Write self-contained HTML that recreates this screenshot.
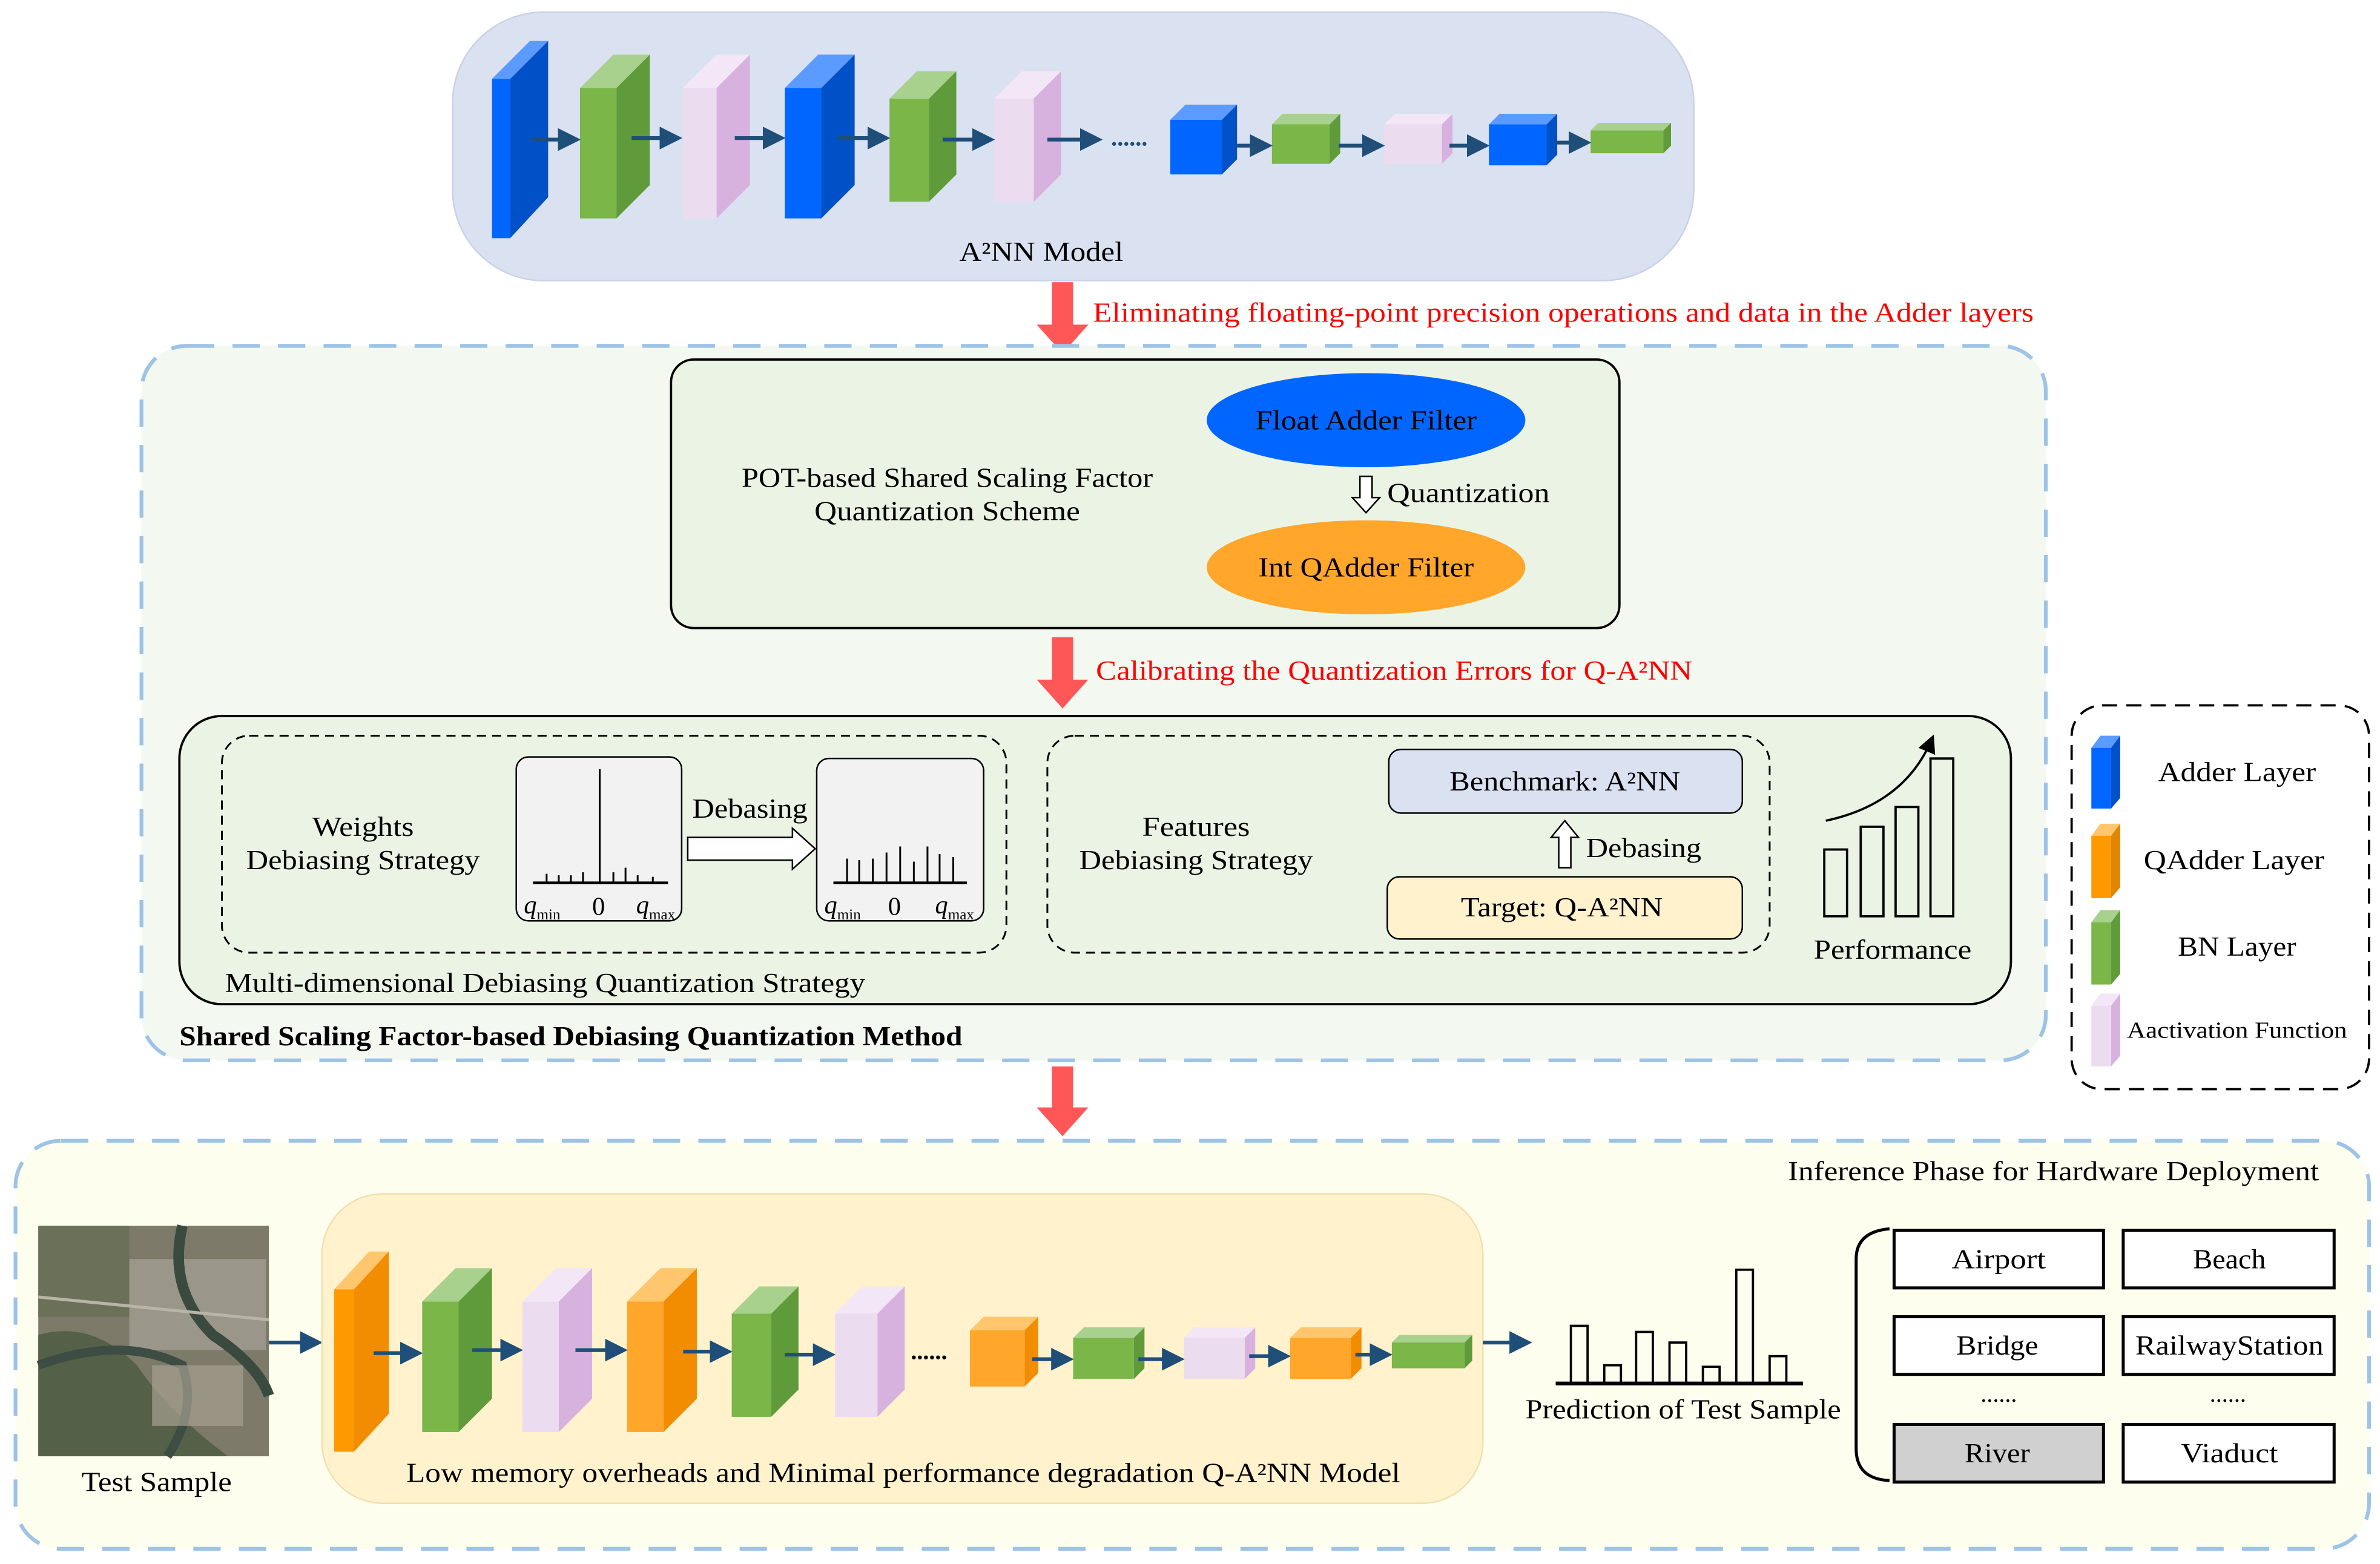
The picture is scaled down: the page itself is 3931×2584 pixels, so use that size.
<!DOCTYPE html>
<html><head><meta charset="utf-8"><style>html,body{margin:0;padding:0;background:#fff}svg{display:block}text{font-family:"Liberation Serif",serif;fill:#000}</style></head><body>
<svg width="3931" height="2584" viewBox="0 0 1568 1031" xmlns="http://www.w3.org/2000/svg">
<defs>
<marker id="ah" markerWidth="6" markerHeight="6" refX="5" refY="3" orient="auto"><path d="M0,0 L6,3 L0,6 z" fill="#1f4e79"/></marker>
<marker id="bh" markerWidth="8" markerHeight="8" refX="6" refY="4" orient="auto"><path d="M0,0 L8,4 L0,8 z" fill="#000"/></marker>
</defs>
<rect x="298" y="8" width="818" height="177" rx="60" fill="#dae1f0" stroke="#c9d2e6"/>
<g>
<polygon points="324,52 349,27 361,27 336,52" fill="#5b9bff"/><polygon points="336,52 361,27 361,130 336,157" fill="#0050c8"/><rect x="324" y="52" width="12" height="105" fill="#0066ff"/>
<polygon points="382,58 404,36 428,36 406,58" fill="#a9d18e"/><polygon points="406,58 428,36 428,122 406,144" fill="#5f9a3b"/><rect x="382" y="58" width="24" height="86" fill="#7ab648"/>
<polygon points="450,58 472,36 494,36 472,58" fill="#f3e6f6"/><polygon points="472,58 494,36 494,122 472,144" fill="#d8b2de"/><rect x="450" y="58" width="22" height="86" fill="#ecdcf0"/>
<polygon points="517,58 539,36 563,36 541,58" fill="#5b9bff"/><polygon points="541,58 563,36 563,122 541,144" fill="#0050c8"/><rect x="517" y="58" width="24" height="86" fill="#0066ff"/>
<polygon points="586,65 604,47 630,47 612,65" fill="#a9d18e"/><polygon points="612,65 630,47 630,115 612,133" fill="#5f9a3b"/><rect x="586" y="65" width="26" height="68" fill="#7ab648"/>
<polygon points="655,65 673,47 699,47 681,65" fill="#f3e6f6"/><polygon points="681,65 699,47 699,115 681,133" fill="#d8b2de"/><rect x="655" y="65" width="26" height="68" fill="#ecdcf0"/>
<polygon points="771,79 781,69 815,69 805,79" fill="#5b9bff"/><polygon points="805,79 815,69 815,105 805,115" fill="#0050c8"/><rect x="771" y="79" width="34" height="36" fill="#0066ff"/>
<polygon points="838,82 845,75 883,75 876,82" fill="#a9d18e"/><polygon points="876,82 883,75 883,101 876,108" fill="#5f9a3b"/><rect x="838" y="82" width="38" height="26" fill="#7ab648"/>
<polygon points="912,82 919,75 957,75 950,82" fill="#f3e6f6"/><polygon points="950,82 957,75 957,101 950,108" fill="#d8b2de"/><rect x="912" y="82" width="38" height="26" fill="#ecdcf0"/>
<polygon points="981,82 988,75 1026,75 1019,82" fill="#5b9bff"/><polygon points="1019,82 1026,75 1026,102 1019,109" fill="#0050c8"/><rect x="981" y="82" width="38" height="27" fill="#0066ff"/>
<polygon points="1048,86 1053,81 1101,81 1096,86" fill="#a9d18e"/><polygon points="1096,86 1101,81 1101,96 1096,101" fill="#5f9a3b"/><rect x="1048" y="86" width="48" height="15" fill="#7ab648"/>
<g stroke="#1f4e79" stroke-width="2.5" marker-end="url(#ah)">
<line x1="350" y1="92" x2="380" y2="92"/><line x1="416" y1="91" x2="447" y2="91"/><line x1="484" y1="91" x2="515" y2="91"/><line x1="552" y1="91" x2="584" y2="91"/><line x1="621" y1="92" x2="653" y2="92"/><line x1="690" y1="92" x2="724" y2="92"/>
<line x1="815" y1="96" x2="836" y2="96"/><line x1="882" y1="96" x2="910" y2="96"/><line x1="955" y1="96" x2="979" y2="96"/><line x1="1025" y1="94" x2="1046" y2="94"/>
</g>
<text x="732" y="96" font-size="16" font-weight="bold" style="fill:#1f4e79">......</text>
</g>
<text x="686" y="172" font-size="18" text-anchor="middle" textLength="108" lengthAdjust="spacingAndGlyphs">A²NN Model</text>
<rect x="693" y="186" width="14" height="30" fill="#ff5757"/><polygon points="683,214 717,214 700,233" fill="#ff5757"/>
<text x="720" y="212" font-size="18" style="fill:#ff0000" textLength="620" lengthAdjust="spacingAndGlyphs">Eliminating floating-point precision operations and data in the Adder layers</text>
<rect x="93" y="228" width="1255" height="471" rx="30" fill="#f3f8f1" stroke="#9dc3e6" stroke-width="2.5" stroke-dasharray="18,12"/>
<rect x="442" y="237" width="625" height="177" rx="15" fill="#ebf4e4" stroke="#000" stroke-width="1.5"/>
<text x="624" y="321" font-size="18" text-anchor="middle" textLength="271" lengthAdjust="spacingAndGlyphs">POT-based Shared Scaling Factor</text>
<text x="624" y="343" font-size="18" text-anchor="middle" textLength="175" lengthAdjust="spacingAndGlyphs">Quantization Scheme</text>
<ellipse cx="900" cy="277" rx="105" ry="31" fill="#0066ff"/>
<text x="900" y="283" font-size="18" text-anchor="middle" textLength="146" lengthAdjust="spacingAndGlyphs">Float Adder Filter</text>
<polygon points="896,314 904,314 904,328 909,328 900,338 891,328 896,328" fill="#fff" stroke="#000"/>
<text x="914" y="331" font-size="18" textLength="107" lengthAdjust="spacingAndGlyphs">Quantization</text>
<ellipse cx="900" cy="374" rx="105" ry="31" fill="#ffa62b"/>
<text x="900" y="380" font-size="18" text-anchor="middle" textLength="142" lengthAdjust="spacingAndGlyphs">Int QAdder Filter</text>
<rect x="693" y="420" width="14" height="30" fill="#ff5757"/><polygon points="683,448 717,448 700,467" fill="#ff5757"/>
<text x="722" y="448" font-size="18" style="fill:#ff0000" textLength="393" lengthAdjust="spacingAndGlyphs">Calibrating the Quantization Errors for Q-A²NN</text>
<rect x="118" y="472" width="1207" height="190" rx="28" fill="#ebf4e4" stroke="#000" stroke-width="1.5"/>
<rect x="146" y="485" width="517" height="143" rx="18" fill="none" stroke="#000" stroke-width="1.2" stroke-dasharray="6,4"/>
<rect x="690" y="485" width="476" height="143" rx="18" fill="none" stroke="#000" stroke-width="1.2" stroke-dasharray="6,4"/>
<text x="239" y="551" font-size="18" text-anchor="middle" textLength="67" lengthAdjust="spacingAndGlyphs">Weights</text>
<text x="239" y="573" font-size="18" text-anchor="middle" textLength="154" lengthAdjust="spacingAndGlyphs">Debiasing Strategy</text>
<rect x="340" y="499" width="109" height="108" rx="8" fill="#f2f2f2" stroke="#000"/>
<g stroke="#000" stroke-width="1.2">
<line x1="351" y1="582" x2="440" y2="582" stroke-width="1.8"/><line x1="395" y1="507" x2="395" y2="582"/>
<line x1="360" y1="576" x2="360" y2="582"/><line x1="368" y1="577" x2="368" y2="582"/><line x1="376" y1="577" x2="376" y2="582"/><line x1="384" y1="575" x2="384" y2="582"/><line x1="404" y1="575" x2="404" y2="582"/><line x1="412" y1="572" x2="412" y2="582"/><line x1="420" y1="577" x2="420" y2="582"/><line x1="430" y1="578" x2="430" y2="582"/>
</g>
<text x="345" y="602" font-size="17" font-style="italic">q<tspan font-size="10" dy="4" font-style="normal">min</tspan></text>
<text x="390" y="603" font-size="17">0</text>
<text x="419" y="602" font-size="17" font-style="italic">q<tspan font-size="10" dy="4" font-style="normal">max</tspan></text>
<text x="494" y="539" font-size="18" text-anchor="middle" textLength="76" lengthAdjust="spacingAndGlyphs">Debasing</text>
<polygon points="453,552 522,552 522,546 537,559.5 522,573 522,567 453,567" fill="#fff" stroke="#000"/>
<rect x="538" y="500" width="110" height="107" rx="8" fill="#f2f2f2" stroke="#000"/>
<g stroke="#000" stroke-width="1.2">
<line x1="549" y1="582" x2="637" y2="582" stroke-width="1.8"/>
<line x1="558" y1="566" x2="558" y2="582"/><line x1="566" y1="567" x2="566" y2="582"/><line x1="575" y1="566" x2="575" y2="582"/><line x1="584" y1="562" x2="584" y2="582"/><line x1="593" y1="558" x2="593" y2="582"/><line x1="602" y1="568" x2="602" y2="582"/><line x1="611" y1="558" x2="611" y2="582"/><line x1="619" y1="563" x2="619" y2="582"/><line x1="628" y1="565" x2="628" y2="582"/>
</g>
<text x="543" y="602" font-size="17" font-style="italic">q<tspan font-size="10" dy="4" font-style="normal">min</tspan></text>
<text x="585" y="603" font-size="17">0</text>
<text x="616" y="602" font-size="17" font-style="italic">q<tspan font-size="10" dy="4" font-style="normal">max</tspan></text>
<text x="788" y="551" font-size="18" text-anchor="middle" textLength="71" lengthAdjust="spacingAndGlyphs">Features</text>
<text x="788" y="573" font-size="18" text-anchor="middle" textLength="154" lengthAdjust="spacingAndGlyphs">Debiasing Strategy</text>
<rect x="915" y="494" width="233" height="42" rx="8" fill="#dae1f0" stroke="#000"/>
<text x="1031" y="521" font-size="18" text-anchor="middle" textLength="152" lengthAdjust="spacingAndGlyphs">Benchmark: A²NN</text>
<polygon points="1027,572 1035,572 1035,552 1040,552 1031,541 1022,552 1027,552" fill="#fff" stroke="#000"/>
<text x="1045" y="565" font-size="18" textLength="76" lengthAdjust="spacingAndGlyphs">Debasing</text>
<rect x="914" y="578" width="234" height="41" rx="8" fill="#fff2cc" stroke="#000"/>
<text x="1029" y="604" font-size="18" text-anchor="middle" textLength="133" lengthAdjust="spacingAndGlyphs">Target: Q-A²NN</text>
<g fill="none" stroke="#000" stroke-width="1.5">
<rect x="1202" y="560" width="15" height="44"/><rect x="1226" y="545" width="15" height="59"/><rect x="1249" y="532" width="15" height="72"/><rect x="1272" y="500" width="15" height="104"/>
<path d="M1203,541 Q1255,530 1273,487" marker-end="url(#bh)"/>
</g>
<text x="1247" y="632" font-size="18" text-anchor="middle" textLength="104" lengthAdjust="spacingAndGlyphs">Performance</text>
<text x="148" y="654" font-size="18" textLength="422" lengthAdjust="spacingAndGlyphs">Multi-dimensional Debiasing Quantization Strategy</text>
<text x="118" y="689" font-size="18" font-weight="bold" textLength="516" lengthAdjust="spacingAndGlyphs">Shared Scaling Factor-based Debiasing Quantization Method</text>
<rect x="1365" y="465" width="196" height="253" rx="20" fill="#fff" stroke="#000" stroke-width="1.5" stroke-dasharray="10,6"/>
<polygon points="1378,493 1384,485 1397,485 1391,493" fill="#5b9bff"/><polygon points="1391,493 1397,485 1397,526 1391,533" fill="#0050c8"/><rect x="1378" y="493" width="13" height="40" fill="#0066ff"/>
<polygon points="1378,551 1384,543 1397,543 1391,551" fill="#ffc66e"/><polygon points="1391,551 1397,543 1397,585 1391,592" fill="#e08600"/><rect x="1378" y="551" width="13" height="41" fill="#ff9900"/>
<polygon points="1378,608 1384,600 1397,600 1391,608" fill="#a9d18e"/><polygon points="1391,608 1397,600 1397,642 1391,649" fill="#5f9a3b"/><rect x="1378" y="608" width="13" height="41" fill="#7ab648"/>
<polygon points="1378,663 1384,655 1397,655 1391,663" fill="#f3e6f6"/><polygon points="1391,663 1397,655 1397,696 1391,703" fill="#d8b2de"/><rect x="1378" y="663" width="13" height="40" fill="#ecdcf0"/>
<text x="1474" y="515" font-size="18" text-anchor="middle" textLength="104" lengthAdjust="spacingAndGlyphs">Adder Layer</text>
<text x="1472" y="573" font-size="18" text-anchor="middle" textLength="119" lengthAdjust="spacingAndGlyphs">QAdder Layer</text>
<text x="1474" y="630" font-size="18" text-anchor="middle" textLength="78" lengthAdjust="spacingAndGlyphs">BN Layer</text>
<text x="1474" y="684" font-size="15" text-anchor="middle" textLength="145" lengthAdjust="spacingAndGlyphs">Aactivation Function</text>
<rect x="693" y="703" width="14" height="29" fill="#ff5757"/><polygon points="683,730 717,730 700,749" fill="#ff5757"/>
<rect x="10" y="752" width="1551" height="269" rx="30" fill="#fefeee" stroke="#9dc3e6" stroke-width="2.5" stroke-dasharray="18,12"/>
<text x="1528" y="778" font-size="18" text-anchor="end" textLength="350" lengthAdjust="spacingAndGlyphs">Inference Phase for Hardware Deployment</text>
<rect x="25" y="808" width="152" height="152" fill="#7d7a6a"/>
<rect x="25" y="808" width="60" height="60" fill="#6b7158"/>
<rect x="85" y="830" width="90" height="60" fill="#9a978a"/>
<path d="M25,880 Q60,870 90,900 Q110,930 150,960 L25,960 Z" fill="#556049"/>
<path d="M120,808 Q110,850 140,880 Q170,900 177,920" stroke="#3a4a3e" stroke-width="7" fill="none"/>
<path d="M25,900 Q80,880 120,900 Q130,930 110,960" stroke="#3e4d44" stroke-width="6" fill="none"/>
<rect x="100" y="900" width="60" height="40" fill="#a6a090" opacity="0.7"/>
<line x1="25" y1="855" x2="177" y2="870" stroke="#b8b4a8" stroke-width="2"/>
<text x="103" y="983" font-size="18" text-anchor="middle" textLength="99" lengthAdjust="spacingAndGlyphs">Test Sample</text>
<line x1="177" y1="885" x2="210" y2="885" stroke="#1f4e79" stroke-width="2.5" marker-end="url(#ah)"/>
<rect x="212" y="787" width="765" height="204" rx="40" fill="#fff2cc" stroke="#f0e0b0"/>
<text x="595" y="977" font-size="18" text-anchor="middle" textLength="655" lengthAdjust="spacingAndGlyphs">Low memory overheads and Minimal performance degradation Q-A²NN Model</text>
<polygon points="220,850 243,825 256,825 233,850" fill="#ffc66e"/><polygon points="233,850 256,825 256,932 233,957" fill="#f28c00"/><rect x="220" y="850" width="13" height="107" fill="#ff9900"/>
<polygon points="278,858 300,836 324,836 302,858" fill="#a9d18e"/><polygon points="302,858 324,836 324,922 302,944" fill="#5f9a3b"/><rect x="278" y="858" width="24" height="86" fill="#7ab648"/>
<polygon points="344,858 366,836 390,836 368,858" fill="#f3e6f6"/><polygon points="368,858 390,836 390,922 368,944" fill="#d8b2de"/><rect x="344" y="858" width="24" height="86" fill="#ecdcf0"/>
<polygon points="413,858 435,836 459,836 437,858" fill="#ffc66e"/><polygon points="437,858 459,836 459,922 437,944" fill="#f28c00"/><rect x="413" y="858" width="24" height="86" fill="#ffa62b"/>
<polygon points="482,866 500,848 526,848 508,866" fill="#a9d18e"/><polygon points="508,866 526,848 526,916 508,934" fill="#5f9a3b"/><rect x="482" y="866" width="26" height="68" fill="#7ab648"/>
<polygon points="550,866 568,848 596,848 578,866" fill="#f3e6f6"/><polygon points="578,866 596,848 596,916 578,934" fill="#d8b2de"/><rect x="550" y="866" width="28" height="68" fill="#ecdcf0"/>
<text x="600" y="896" font-size="16" font-weight="bold">......</text>
<polygon points="639,877 648,868 684,868 675,877" fill="#ffc66e"/><polygon points="675,877 684,868 684,905 675,914" fill="#f28c00"/><rect x="639" y="877" width="36" height="37" fill="#ffa62b"/>
<polygon points="707,882 714,875 754,875 747,882" fill="#a9d18e"/><polygon points="747,882 754,875 754,902 747,909" fill="#5f9a3b"/><rect x="707" y="882" width="40" height="27" fill="#7ab648"/>
<polygon points="780,882 787,875 827,875 820,882" fill="#f3e6f6"/><polygon points="820,882 827,875 827,902 820,909" fill="#d8b2de"/><rect x="780" y="882" width="40" height="27" fill="#ecdcf0"/>
<polygon points="850,882 857,875 897,875 890,882" fill="#ffc66e"/><polygon points="890,882 897,875 897,902 890,909" fill="#f28c00"/><rect x="850" y="882" width="40" height="27" fill="#ffa62b"/>
<polygon points="917,885 922,880 970,880 965,885" fill="#a9d18e"/><polygon points="965,885 970,880 970,897 965,902" fill="#5f9a3b"/><rect x="917" y="885" width="48" height="17" fill="#7ab648"/>
<g stroke="#1f4e79" stroke-width="2.5" marker-end="url(#ah)">
<line x1="246" y1="892" x2="276" y2="892"/><line x1="311" y1="890" x2="342" y2="890"/><line x1="379" y1="890" x2="411" y2="890"/><line x1="450" y1="891" x2="480" y2="891"/><line x1="517" y1="893" x2="548" y2="893"/>
<line x1="680" y1="896" x2="705" y2="896"/><line x1="750" y1="896" x2="778" y2="896"/><line x1="823" y1="894" x2="848" y2="894"/><line x1="893" y1="893" x2="915" y2="893"/><line x1="977" y1="885" x2="1007" y2="885"/>
</g>
<g fill="none" stroke="#000" stroke-width="1.5">
<rect x="1035" y="874" width="11" height="38"/><rect x="1057" y="900" width="11" height="12"/><rect x="1078" y="878" width="11" height="34"/><rect x="1100" y="885" width="11" height="27"/><rect x="1122" y="901" width="11" height="11"/><rect x="1144" y="837" width="11" height="75"/><rect x="1166" y="894" width="11" height="18"/>
<line x1="1025" y1="912" x2="1188" y2="912" stroke-width="2.5"/>
<path d="M1245,810 Q1223,812 1223,830 L1223,955 Q1223,975 1245,976" stroke-width="2"/>
</g>
<text x="1109" y="935" font-size="18" text-anchor="middle" textLength="208" lengthAdjust="spacingAndGlyphs">Prediction of Test Sample</text>
<g stroke="#000" stroke-width="2">
<rect x="1248" y="811" width="138" height="38" fill="#fff"/><rect x="1399" y="811" width="139" height="38" fill="#fff"/>
<rect x="1248" y="868" width="138" height="38" fill="#fff"/><rect x="1399" y="868" width="139" height="38" fill="#fff"/>
<rect x="1248" y="939" width="138" height="38" fill="#d0d0d0"/><rect x="1399" y="939" width="139" height="38" fill="#fff"/>
</g>
<text x="1317" y="836" font-size="18" text-anchor="middle" textLength="62" lengthAdjust="spacingAndGlyphs">Airport</text>
<text x="1469" y="836" font-size="18" text-anchor="middle" textLength="48" lengthAdjust="spacingAndGlyphs">Beach</text>
<text x="1316" y="893" font-size="18" text-anchor="middle" textLength="54" lengthAdjust="spacingAndGlyphs">Bridge</text>
<text x="1469" y="893" font-size="18" text-anchor="middle" textLength="124" lengthAdjust="spacingAndGlyphs">RailwayStation</text>
<text x="1317" y="924" font-size="16" text-anchor="middle">......</text>
<text x="1468" y="924" font-size="16" text-anchor="middle">......</text>
<text x="1316" y="964" font-size="18" text-anchor="middle" textLength="43" lengthAdjust="spacingAndGlyphs">River</text>
<text x="1469" y="964" font-size="18" text-anchor="middle" textLength="64" lengthAdjust="spacingAndGlyphs">Viaduct</text>
</svg>
</body></html>
